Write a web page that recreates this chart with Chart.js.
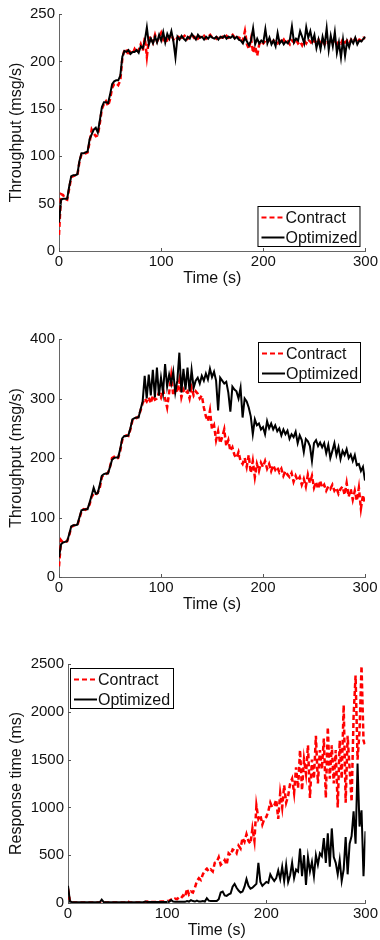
<!DOCTYPE html>
<html>
<head>
<meta charset="utf-8">
<script src="https://cdn.jsdelivr.net/npm/chart.js@4.4.0/dist/chart.umd.min.js"></script>
<style>
html, body { margin:0; padding:0; background:#fff; }
body { width:380px; height:940px; position:relative; overflow:hidden; }
canvas { position:absolute; left:0; }
</style>
</head>
<body>
<canvas id="c1" width="380" height="310" style="top:0px"></canvas>
<canvas id="c2" width="380" height="310" style="top:310px"></canvas>
<canvas id="c3" width="380" height="320" style="top:620px"></canvas>
<script>
// sample times (s), shared by all three plots
const times = [0,2,4,6,8,10,12,14,16,18,20,22,24,26,28,30,32,34,36,38,
  40,42,44,46,48,50,52,54,56,58,60,62,64,66,68,70,72,74,76,78,
  80,82,84,86,88,90,92,94,96,98,100,102,104,106,108,110,112,114,116,118,
  120,122,124,126,128,130,132,134,136,138,140,142,144,146,148,150,152,154,156,158,
  160,162,164,166,168,170,172,174,176,178,180,182,184,186,188,190,192,194,196,198,
  200,202,204,206,208,210,212,214,216,218,220,222,224,226,228,230,232,234,236,238,
  240,242,244,246,248,250,252,254,256,258,260,262,264,266,268,270,272,274,276,278,
  280,282,284,286,288,290,292,294,296,298,300];
const xTicks = [0, 100, 200, 300];
const seriesNames = ['Contract', 'Optimized'];

// plot 1 - throughput (msg/s)
const optimized1 = [30,54,55,55,55,68,79,80,80,81,
  95,103,103,104,105,118,123,128,130,125,
  138,152,157,157,156,165,176,179,180,180,
  185,205,211,210,212,208,210,210,212,209,
  216,214,222,236,218,224,219,226,220,228,
  222,231,220,229,224,232,221,204,226,223,
  227,224,222,226,224,229,226,223,228,225,
  226,223,226,224,227,225,224,226,223,226,
  225,227,224,226,225,227,224,226,223,222,
  219,225,221,217,222,235,218,224,219,222,
  220,234,219,225,218,222,216,230,219,222,
  218,221,219,223,237,220,224,222,232,226,
  219,236,225,232,221,228,214,223,213,226,
  217,235,212,227,216,231,209,220,204,223,
  206,221,215,223,219,225,218,222,221,224,
  226];
const contract1 = [17,60,59,55,54,66,78,79,80,80,
  94,102,104,103,104,115,128,124,121,122,
  135,150,155,158,153,160,172,176,177,175,
  180,203,212,213,206,210,208,213,209,212,
  218,211,225,205,224,226,220,228,221,225,
  230,223,227,220,226,228,223,226,224,227,
  225,226,228,224,226,228,225,227,224,226,
  225,227,224,226,228,225,226,224,227,225,
  226,224,227,225,226,228,225,227,224,226,
  222,232,218,213,224,209,216,206,218,221,
  219,222,220,223,219,222,221,219,222,220,
  223,219,221,218,222,220,223,219,221,217,
  222,219,223,221,218,222,220,223,219,221,
  218,222,219,223,220,222,218,221,219,224,
  220,222,219,223,221,224,220,223,222,225,
  224];

// plot 2 - throughput (msg/s), overload
const optimized2 = [33,55,58,59,60,72,85,87,87,88,
  100,112,113,114,114,125,137,150,140,141,
  155,170,173,174,174,185,197,200,201,201,
  215,233,237,237,238,250,265,267,268,268,
  282,295,338,300,340,305,348,302,352,305,
  335,310,358,320,340,325,345,310,330,377,
  310,350,315,352,312,348,318,330,335,325,
  338,330,342,332,350,336,345,330,280,335,
  330,325,328,310,278,320,315,312,300,318,
  268,300,295,285,270,240,265,255,258,248,
  252,240,262,250,258,248,255,245,250,238,
  248,240,246,232,240,235,244,225,238,230,
  210,232,228,220,195,225,230,220,226,218,
  225,208,222,200,212,225,205,218,198,212,
  205,215,200,206,195,205,188,190,178,185,
  162];
const contract2 = [18,62,58,59,60,70,84,86,88,87,
  98,110,114,113,116,122,135,140,138,142,
  150,168,172,173,175,185,200,202,199,200,
  212,230,236,238,237,248,263,268,267,270,
  280,292,300,295,302,292,305,298,300,310,
  302,315,300,285,310,338,305,320,310,330,
  302,315,308,312,300,318,305,312,308,300,
  305,285,270,262,280,248,255,230,245,225,
  235,248,220,230,212,218,205,200,210,195,
  190,200,185,205,175,195,168,190,178,192,
  185,195,182,190,178,188,180,185,176,182,
  170,178,172,168,175,160,170,162,168,155,
  165,152,172,158,170,150,160,148,162,150,
  155,145,152,148,155,145,150,140,148,152,
  138,158,135,148,130,145,128,150,115,138,
  122];

// plot 3 - response time (ms)
const optimized3 = [180,15,10,8,8,8,8,8,8,8,
  8,8,8,8,8,8,8,35,10,8,
  8,8,8,8,8,8,8,8,8,8,
  8,8,8,8,8,8,8,8,8,15,
  10,10,10,10,10,10,10,10,10,10,
  10,12,30,15,12,12,12,12,12,12,
  20,15,30,20,15,25,15,15,20,15,
  50,25,20,20,20,20,40,110,120,80,
  75,90,100,170,200,160,130,110,120,170,
  250,180,150,160,180,200,420,220,180,200,
  220,210,300,260,230,260,340,250,380,230,
  400,220,290,420,260,350,330,570,280,500,
  190,480,330,430,280,500,400,520,490,680,
  420,730,380,780,480,420,300,450,230,350,
  690,300,620,700,960,620,1460,800,970,280,
  750];
const contract3 = [150,10,5,5,5,5,5,5,5,5,
  5,5,5,5,5,5,5,5,5,5,
  5,5,5,5,5,5,5,5,5,5,
  20,5,5,5,5,5,5,5,5,10,
  15,8,10,10,10,12,12,15,15,15,
  20,25,35,30,45,40,60,50,80,60,
  150,90,120,110,160,230,260,240,300,340,
  360,330,350,330,420,430,480,400,420,450,
  400,520,500,560,550,520,600,570,680,640,
  720,650,620,780,650,1020,880,920,820,880,
  900,960,1050,1000,1020,1080,880,1150,1000,1230,
  1050,1120,1250,1300,1150,1420,1200,1600,1180,1500,
  1350,1650,1100,1500,1300,1750,1250,1600,1400,1720,
  1100,1840,1300,1650,1250,1600,1000,1700,1300,2070,
  1050,1750,1400,1060,1950,2380,1500,1800,2480,1700,
  1640];

Chart.defaults.font.family = '"Liberation Sans", Arial, Helvetica, sans-serif';
Chart.defaults.color = '#111';

function pts(vals){ return times.map((t, i) => ({ x: t, y: vals[i] })); }

// small tick marks pointing into the plot, like matlab
const inwardTicks = {
  id: 'inwardTicks',
  afterDraw(chart){
    const { ctx, chartArea: a, scales: { x, y } } = chart;
    ctx.save();
    ctx.strokeStyle = '#555';
    ctx.lineWidth = 1;
    ctx.beginPath();
    x.ticks.forEach(t => {
      const px = Math.round(x.getPixelForValue(t.value)) + 0.5;
      ctx.moveTo(px, a.bottom); ctx.lineTo(px, a.bottom - 3);
    });
    y.ticks.forEach(t => {
      const py = Math.round(y.getPixelForValue(t.value)) + 0.5;
      ctx.moveTo(a.left, py); ctx.lineTo(a.left + 3, py);
    });
    ctx.stroke();
    ctx.restore();
  }
};

// boxed legend drawn inside the plot area
const boxLegend = {
  id: 'boxLegend',
  afterDatasetsDraw(chart, args, o){
    const { ctx, chartArea: a } = chart;
    const w = o.w, h = o.h;
    const x = o.corner[1] === 'r' ? a.right - o.dx - w : a.left + o.dx;
    const y = o.corner[0] === 'b' ? a.bottom - o.dy - h : a.top + o.dy;
    ctx.save();
    ctx.fillStyle = '#fff';
    ctx.fillRect(x, y, w, h);
    ctx.strokeStyle = '#000';
    ctx.lineWidth = 1;
    ctx.strokeRect(x + 0.5, y + 0.5, w - 1, h - 1);
    seriesNames.forEach((name, i) => {
      const ds = chart.data.datasets.find(d => d.label === name);
      const cy = Math.round(y + 11 + i * 20) + 0.5;
      ctx.strokeStyle = ds.borderColor;
      ctx.lineWidth = 2;
      ctx.setLineDash(ds.borderDash || []);
      ctx.beginPath(); ctx.moveTo(x + 4, cy); ctx.lineTo(x + 27, cy); ctx.stroke();
      ctx.setLineDash([]);
      ctx.fillStyle = '#111';
      ctx.font = '16px "Liberation Sans", Arial, sans-serif';
      ctx.textBaseline = 'middle';
      ctx.fillText(name, x + 28, cy + 1);
    });
    ctx.restore();
  }
};

function makeChart(id, cfg){
  return new Chart(document.getElementById(id), {
    type: 'line',
    data: {
      datasets: [
        { label: 'Optimized', data: pts(cfg.optimized), borderColor: '#000', borderWidth: 2,
          pointRadius: 0, tension: 0 },
        { label: 'Contract', data: pts(cfg.contract), borderColor: '#ff0000', borderWidth: 2.5,
          borderDash: [5, 3], pointRadius: 0, tension: 0 }
      ]
    },
    options: {
      responsive: false,
      animation: false,
      devicePixelRatio: 1,
      layout: { padding: { left: 0, right: cfg.right, top: cfg.top, bottom: cfg.bottom } },
      plugins: {
        legend: { display: false },
        tooltip: { enabled: false },
        boxLegend: cfg.legend
      },
      scales: {
        x: {
          type: 'linear', min: 0, max: 300,
          afterBuildTicks: s => { s.ticks = xTicks.map(v => ({ value: v })); },
          ticks: { padding: 2, maxRotation: 0, font: { size: 15 }, callback: v => String(v) },
          grid: { display: false, drawTicks: false },
          border: { display: true, color: '#666', width: 1 },
          title: { display: true, text: 'Time (s)', font: { size: 16 }, padding: 0 },
          afterFit: s => { s.height = 37; }
        },
        y: {
          min: 0, max: cfg.yMax,
          ticks: { stepSize: cfg.yStep, padding: 4, font: { size: 15 }, callback: v => String(v) },
          grid: { display: false, drawTicks: false },
          border: { display: true, color: '#666', width: 1 },
          title: { display: true, text: cfg.yTitle, font: { size: 16 }, padding: { top: 7, bottom: 0 } },
          afterFit: s => { s.width = cfg.yWidth; }
        }
      }
    },
    plugins: [inwardTicks, boxLegend]
  });
}

makeChart('c1', {
  optimized: optimized1, contract: contract1,
  yMax: 250, yStep: 50, yTitle: 'Throughput (msg/s)', yWidth: 59,
  top: 14, right: 14, bottom: 22,
  legend: { corner: 'br', dx: 5, dy: 4, w: 103, h: 41 }
});
makeChart('c2', {
  optimized: optimized2, contract: contract2,
  yMax: 400, yStep: 100, yTitle: 'Throughput (msg/s)', yWidth: 59,
  top: 29, right: 15, bottom: 6,
  legend: { corner: 'tr', dx: 4, dy: 3, w: 103, h: 41 }
});
makeChart('c3', {
  optimized: optimized3, contract: contract3,
  yMax: 2500, yStep: 500, yTitle: 'Response time (ms)', yWidth: 68,
  top: 44, right: 14, bottom: 0,
  legend: { corner: 'tl', dx: 2, dy: 4, w: 104, h: 41 }
});
</script>
</body>
</html>
